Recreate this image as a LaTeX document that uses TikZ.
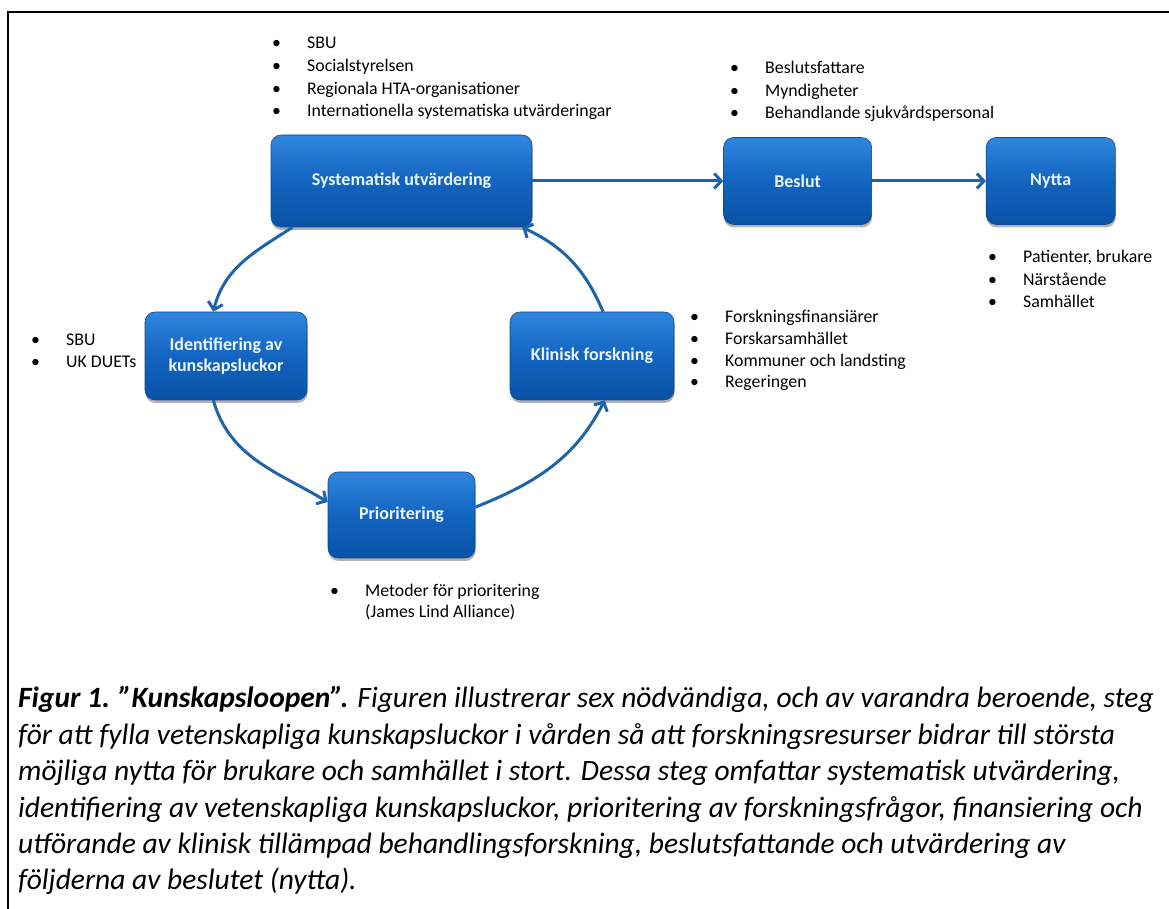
\documentclass[tikz,border=0pt]{standalone}
\usepackage{fontspec}
\setmainfont{Carlito}
\usetikzlibrary{arrows.meta, positioning, shadows}
\usepackage{xcolor}
\definecolor{loopTop}{RGB}{48,134,220}
\definecolor{loopMid}{RGB}{18,100,192}
\definecolor{loopBottom}{RGB}{10,82,165}
\definecolor{loopEdge}{RGB}{10,74,150}
\definecolor{loopArrow}{RGB}{30,100,168}
\definecolor{loopText}{RGB}{236,246,255}
\newcommand{\bul}[1]{\makebox[35pt][l]{•}#1}
\tikzset{
    font=\fontsize{17.8}{22.7}\selectfont,
    >={Straight Barb[length=7pt,width=15pt]},
    % Colors
    loopFill/.style={top color=loopTop, bottom color=loopBottom, middle color=loopMid, draw=loopEdge},
    % Shapes
    stepBox/.style={rectangle, rounded corners=10pt, line width=0.6pt, loopFill,
                    align=center, text=loopText, inner sep=2pt,
                    font=\fontsize{18}{20.5}\selectfont\bfseries,
                    drop shadow={shadow xshift=0.5pt, shadow yshift=-3pt, opacity=0.3, fill=black}},
    lst/.style={align=left, inner sep=0pt, anchor=base west},
    frame/.style={line width=2pt, black},
    % Flow & Labels
    flow/.style={->, line width=3pt, loopArrow},
    caption/.style={align=left, inner sep=0pt, anchor=base west,
                    font=\fontsize{29.5}{36.4}\selectfont\itshape}
}

\begin{document}
\begin{tikzpicture}[x=1pt, y=1pt]
\useasboundingbox (0,0) rectangle (1169,909);
\draw[frame] (8,0) |- (1169,897);

\node[stepBox, minimum width=261pt, minimum height=92pt] (sys) at (401.5,728) {Systematisk utvärdering};
\node[stepBox, minimum width=148pt, minimum height=87pt, right=191pt of sys] (beslut) {Beslut};
\node[stepBox, minimum width=129pt, minimum height=87pt, right=114pt of beslut] (nytta) {Nytta};
\node[stepBox, minimum width=162pt, minimum height=88pt] (ident) at (226,553) {Identifiering av\\kunskapsluckor};
\node[stepBox, minimum width=164pt, minimum height=88pt] (klin) at (592,553) {Klinisk forskning};
\node[stepBox, minimum width=147pt, minimum height=86pt] (prio) at (401.5,394) {Prioritering};

\node[lst] (sysList) at (272,792) {\bul{SBU}\\\bul{Socialstyrelsen}\\\bul{Regionala HTA-organisationer}\\\bul{Internationella systematiska utvärderingar}};
\node[lst] (beslutList) at (730,790) {\bul{Beslutsfattare}\\\bul{Myndigheter}\\\bul{Behandlande sjukvårdspersonal}};
\node[lst] (nyttaList) at (988,601) {\bul{Patienter, brukare}\\\bul{Närstående}\\\bul{Samhället}};
\node[lst] (identList) at (31,541) {\bul{SBU}\\\bul{UK DUETs}};
\node[lst, font=\fontsize{17.8}{21.7}\selectfont] (klinList) at (690,521) {\bul{Forskningsfinansiärer}\\\bul{Forskarsamhället}\\\bul{Kommuner och landsting}\\\bul{Regeringen}};
\node[lst, font=\fontsize{17.8}{21.5}\selectfont] (prioList) at (330,291) {\bul{Metoder för prioritering}\\\hspace*{35pt}(James Lind Alliance)};

\draw[flow] (sys) -- (beslut);
\draw[flow] (beslut) -- (nytta);
\draw[flow] (sys.203) to[out=213, in=76] (ident.106);
\draw[flow] (ident.254) to[out=286, in=149] (prio.170);
\draw[flow] (prio.6) to[out=22, in=243] (klin.286);
\draw[flow] (klin.76) to[out=113, in=335] (sys.339);

\node[caption] (cap) at (18,19) {\textbf{Figur 1. ”Kunskapsloopen”.} Figuren illustrerar sex nödvändiga, och av varandra beroende, steg\\för att fylla vetenskapliga kunskapsluckor i vården så att forskningsresurser bidrar till största\\möjliga nytta för brukare och samhället i stort. Dessa steg omfattar systematisk utvärdering,\\identifiering av vetenskapliga kunskapsluckor, prioritering av forskningsfrågor, finansiering och\\utförande av klinisk tillämpad behandlingsforskning, beslutsfattande och utvärdering av\\följderna av beslutet (nytta).};

\end{tikzpicture}
\end{document}
